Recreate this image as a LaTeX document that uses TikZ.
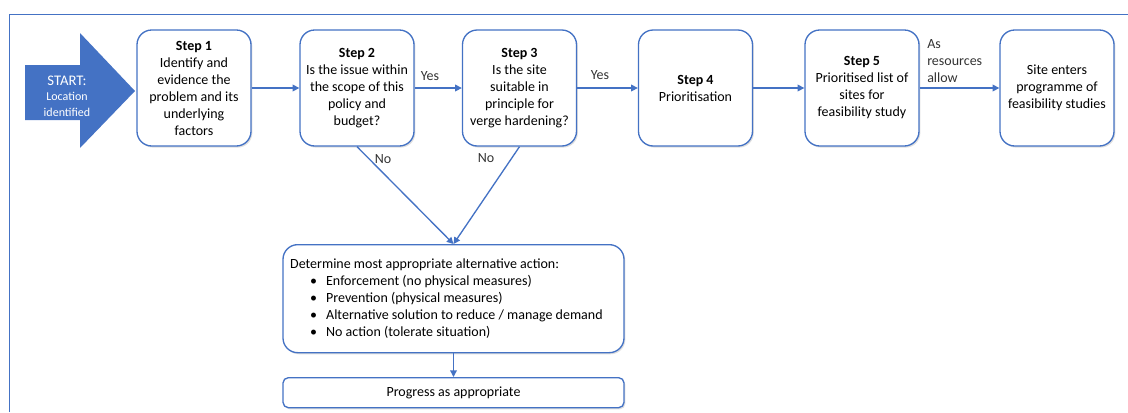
\documentclass[tikz,border=0pt]{standalone}
\usepackage{fontspec}
\setmainfont{Carlito}
\usetikzlibrary{arrows.meta,shadows,calc}
\definecolor{obl}{HTML}{4472C4}
\begin{document}
\begin{tikzpicture}[x=0.75pt,y=-0.75pt,
  font=\fontsize{10.5pt}{12.75pt}\selectfont,
  stepbox/.style={draw=obl,line width=1pt,fill=white,rounded corners=11pt,
    minimum width=85.5pt,minimum height=87pt,align=center,inner sep=2pt,
    drop shadow={shadow xshift=1pt,shadow yshift=-1.2pt,opacity=0.25}},
  widebox/.style={draw=obl,line width=1pt,fill=white,
    minimum width=255.75pt,align=left,
    drop shadow={shadow xshift=1pt,shadow yshift=-1.2pt,opacity=0.25}},
  flow/.style={draw=obl,line width=1pt,-{Triangle[length=5pt,width=5pt]}},
  lbl/.style={inner sep=0pt,text=black!80}
]
\useasboundingbox (0,0) rectangle (1128,412);
% frame
\draw[obl,line width=1pt] (9.5,412) -- (9.5,14.5) -- (1128,14.5);

% start arrow
\fill[obl] (25,65) -- (80,65) -- (80,33) -- (135,91) -- (80,148) -- (80,120) -- (25,120) -- cycle;
\node[text=white,align=center,inner sep=0pt,font=\fontsize{9pt}{11.5pt}\selectfont] (start) at (67,96)
  {\fontsize{11pt}{13pt}\selectfont START:\\ Location\\identified};

% main steps
\node[stepbox] (s1) at (194,88) {\textbf{Step 1}\\Identify and\\evidence the\\problem and its\\underlying\\factors};
\node[stepbox] (s2) at (357,88) {\textbf{Step 2}\\Is the issue within\\the scope of this\\policy and\\budget?};
\node[stepbox] (s3) at (519.5,88) {\textbf{Step 3}\\Is the site\\suitable in\\principle for\\verge hardening?};
\node[stepbox] (s4) at (695.5,88) {\textbf{Step 4}\\Prioritisation};
\node[stepbox] (s5) at (862,88) {\textbf{Step 5}\\Prioritised list of\\sites for\\feasibility study};
\node[stepbox] (s6) at (1057,88) {Site enters\\programme of\\feasibility studies};

% alternative action and outcome
\node[widebox,rounded corners=11pt,minimum height=81pt,anchor=north] (alt) at (453.5,244)
  {\begin{minipage}{245pt}
   Determine most appropriate alternative action:\\
   \hspace*{15pt}\makebox[12pt][l]{\textbullet}Enforcement (no physical measures)\\
   \hspace*{15pt}\makebox[12pt][l]{\textbullet}Prevention (physical measures)\\
   \hspace*{15pt}\makebox[12pt][l]{\textbullet}Alternative solution to reduce / manage demand\\
   \hspace*{15pt}\makebox[12pt][l]{\textbullet}No action (tolerate situation)
   \end{minipage}};
\node[widebox,rounded corners=4pt,minimum height=22.5pt,align=center,anchor=north] (prog) at (453.5,377)
  {Progress as appropriate};

% connectors
\draw[flow] (s1.east) -- (s2.west);
\draw[flow] (s2.east) -- (s3.west);
\draw[flow] (s3.east) -- (s4.west);
\draw[flow] (s4.east) -- (s5.west);
\draw[flow] (s5.east) -- (s6.west);
\draw[flow] (s2.south) -- (alt.north);
\draw[flow] (s3.south) -- (alt.north);
\draw[flow] (alt.south) -- (prog.north);

% connector labels
\node[lbl] (yes1) at (430,76) {Yes};
\node[lbl] (yes2) at (600,75) {Yes};
\node[lbl,align=left,anchor=west] (asres) at (927,61) {As\\resources\\allow};
\node[lbl] (no1) at (383,159) {No};
\node[lbl] (no2) at (486,158) {No};
\end{tikzpicture}
\end{document}
